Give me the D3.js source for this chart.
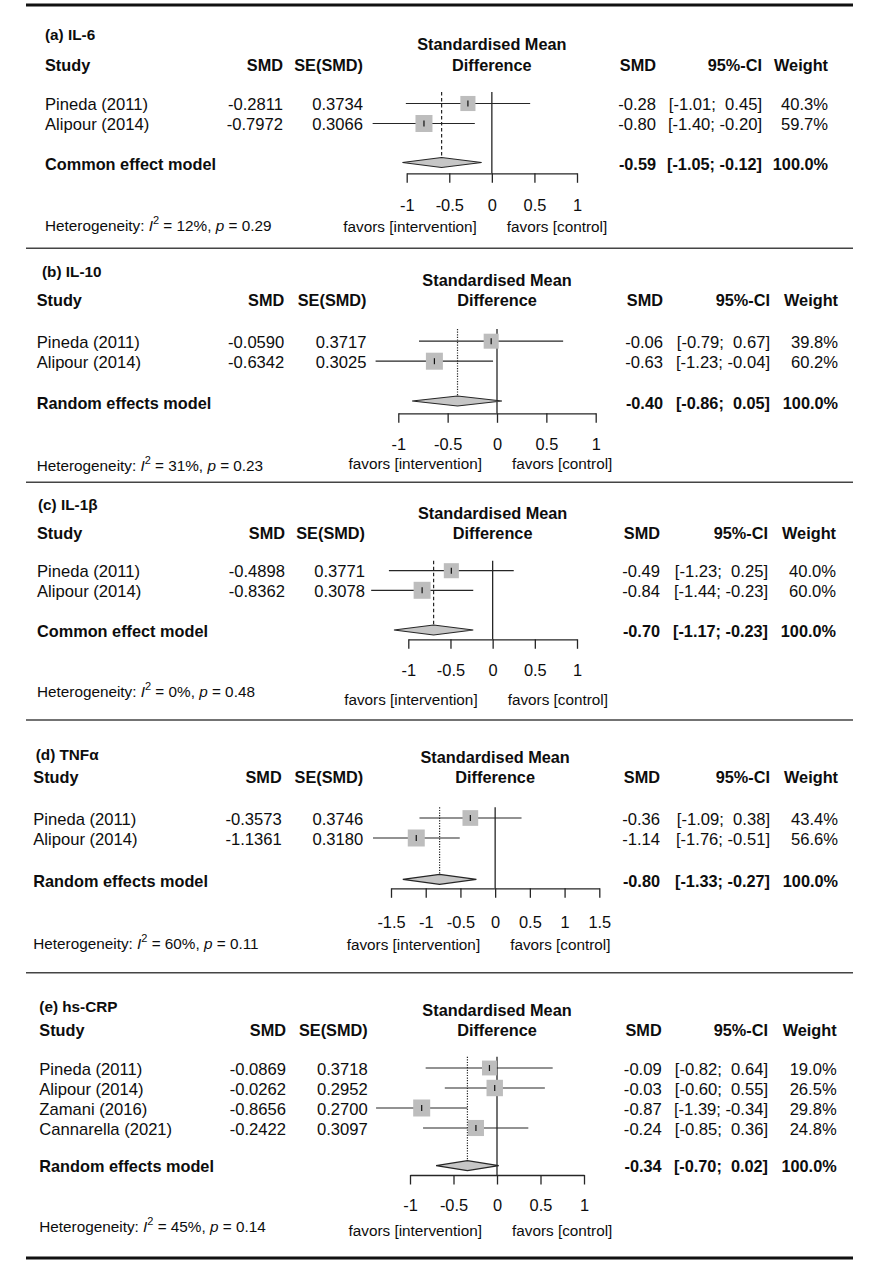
<!DOCTYPE html>
<html><head><meta charset="utf-8">
<script src="https://cdn.jsdelivr.net/npm/d3@7"></script>
<style>
body{margin:0;background:#fff}
text{font-family:"Liberation Sans",Arial,Helvetica,sans-serif;fill:#0d0d0d}
</style>
</head><body>
<svg id="chart" width="889" height="1266"></svg>
<script>
// ---------------- DATA ----------------
const panelTitles = ["(a) IL-6", "(b) IL-10", "(c) IL-1β", "(d) TNFα", "(e) hs-CRP"];
const modelLabels = ["Common effect model", "Random effects model", "Common effect model", "Random effects model", "Random effects model"];
const modelTypes = ["common", "random", "common", "random", "random"];
const pooledWeights = [100.0, 100.0, 100.0, 100.0, 100.0];

const studiesA = ["Pineda (2011)", "Alipour (2014)"];
const smdA = [-0.2811, -0.7972];
const seA = [0.3734, 0.3066];
const lowerA = [-1.01, -1.40];
const upperA = [0.45, -0.20];
const weightA = [40.3, 59.7];
const pooledA = [-0.59, -1.05, -0.12];
const hetA = [12, 0.29];
const ticksA = [-1, -0.5, 0, 0.5, 1];

const studiesB = ["Pineda (2011)", "Alipour (2014)"];
const smdB = [-0.0590, -0.6342];
const seB = [0.3717, 0.3025];
const lowerB = [-0.79, -1.23];
const upperB = [0.67, -0.04];
const weightB = [39.8, 60.2];
const pooledB = [-0.40, -0.86, 0.05];
const hetB = [31, 0.23];
const ticksB = [-1, -0.5, 0, 0.5, 1];

const studiesC = ["Pineda (2011)", "Alipour (2014)"];
const smdC = [-0.4898, -0.8362];
const seC = [0.3771, 0.3078];
const lowerC = [-1.23, -1.44];
const upperC = [0.25, -0.23];
const weightC = [40.0, 60.0];
const pooledC = [-0.70, -1.17, -0.23];
const hetC = [0, 0.48];
const ticksC = [-1, -0.5, 0, 0.5, 1];

const studiesD = ["Pineda (2011)", "Alipour (2014)"];
const smdD = [-0.3573, -1.1361];
const seD = [0.3746, 0.3180];
const lowerD = [-1.09, -1.76];
const upperD = [0.38, -0.51];
const weightD = [43.4, 56.6];
const pooledD = [-0.80, -1.33, -0.27];
const hetD = [60, 0.11];
const ticksD = [-1.5, -1, -0.5, 0, 0.5, 1, 1.5];

const studiesE = ["Pineda (2011)", "Alipour (2014)", "Zamani (2016)", "Cannarella (2021)"];
const smdE = [-0.0869, -0.0262, -0.8656, -0.2422];
const seE = [0.3718, 0.2952, 0.2700, 0.3097];
const lowerE = [-0.82, -0.60, -1.39, -0.85];
const upperE = [0.64, 0.55, -0.34, 0.36];
const weightE = [19.0, 26.5, 29.8, 24.8];
const pooledE = [-0.34, -0.70, 0.02];
const hetE = [45, 0.14];
const ticksE = [-1, -0.5, 0, 0.5, 1];

const panels = [
  {studies: studiesA, smd: smdA, se: seA, lo: lowerA, hi: upperA, w: weightA, pooled: pooledA, het: hetA, ticks: ticksA},
  {studies: studiesB, smd: smdB, se: seB, lo: lowerB, hi: upperB, w: weightB, pooled: pooledB, het: hetB, ticks: ticksB},
  {studies: studiesC, smd: smdC, se: seC, lo: lowerC, hi: upperC, w: weightC, pooled: pooledC, het: hetC, ticks: ticksC},
  {studies: studiesD, smd: smdD, se: seD, lo: lowerD, hi: upperD, w: weightD, pooled: pooledD, het: hetD, ticks: ticksD},
  {studies: studiesE, smd: smdE, se: seE, lo: lowerE, hi: upperE, w: weightE, pooled: pooledE, het: hetE, ticks: ticksE}
];

// ---------------- LAYOUT ----------------
const layout = [
  {titleX:45, titleY:35, left:45, head:65, stdMean:44, diff:65, row0:103.5, step:20, model:164.5, dia:162.5, axL:406.7, axR:577, axY:173.3, tickLab:205, favors:226.7, het:225.3, zeroTop:92, c1:283, c2:363, r1:656, r2:762, r3:828},
  {titleX:42, titleY:271.7, left:36.7, head:300.7, stdMean:280, diff:300.5, row0:341.2, step:20, model:403.3, dia:401, axL:398.3, axR:595.7, axY:413.3, tickLab:444, favors:464, het:465.7, zeroTop:329, c1:284.3, c2:366.5, r1:663, r2:770, r3:838},
  {titleX:38, titleY:505, left:37, head:533, stdMean:513, diff:533, row0:570.7, step:19.6, model:631, dia:630, axL:408.3, axR:577, axY:639.3, tickLab:670.7, favors:700, het:692, zeroTop:560.7, c1:285, c2:365, r1:660, r2:768, r3:836},
  {titleX:35.7, titleY:755, left:33.3, head:777.3, stdMean:757, diff:777.3, row0:818, step:20, model:881, dia:879.3, axL:391, axR:599.3, axY:888.3, tickLab:922.7, favors:945, het:944, zeroTop:807.3, c1:281.7, c2:363.3, r1:660, r2:770, r3:838},
  {titleX:39.3, titleY:1006.7, left:39.3, head:1030.7, stdMean:1010, diff:1030.5, row0:1068, step:20, model:1166.7, dia:1165.7, axL:410, axR:584, axY:1175, tickLab:1205, favors:1230.7, het:1226.7, zeroTop:1056.7, c1:286, c2:367.7, r1:661.7, r2:768, r3:836.7}
];
const separators = [248.3, 482.3, 720, 972.7];

// ---------------- DRAW ----------------
const svg = d3.select("#chart");
const FS = 16.6, FSB = 16.3;
const lineCol = "#262626";

svg.append("line").attr("x1", 26).attr("x2", 853).attr("y1", 5).attr("y2", 5)
  .attr("stroke", "#111").attr("stroke-width", 3);
svg.append("line").attr("x1", 26).attr("x2", 853).attr("y1", 1258).attr("y2", 1258)
  .attr("stroke", "#111").attr("stroke-width", 3);
separators.forEach(y => svg.append("line").attr("x1", 26).attr("x2", 853).attr("y1", y).attr("y2", y)
  .attr("stroke", "#444").attr("stroke-width", 1.5));

function txt(g, x, y, s, opt = {}) {
  const t = g.append("text").attr("x", x).attr("y", y).attr("dy", "0.35em")
    .style("font-size", (opt.size || (opt.bold ? FSB : FS)) + "px")
    .style("white-space", "pre")
    .attr("text-anchor", opt.anchor || "start")
    .text(s);
  if (opt.bold) t.style("font-weight", "bold");
  return t;
}
function ciStr(lo, hi) {
  const f = v => (v < 0 ? "" : " ") + v.toFixed(2);
  return "[" + f(lo) + "; " + f(hi) + "]";
}

panels.forEach((D, i) => {
  const L = layout[i];
  const g = svg.append("g");
  const x = d3.scaleLinear().domain([D.ticks[0], D.ticks[D.ticks.length - 1]]).range([L.axL, L.axR]);
  const y = d3.scaleLinear().domain([0, 1]).range([L.row0, L.row0 + L.step]);
  const box = d3.scalePow().exponent(0.3).domain([0, d3.max(D.w)]).range([0, 17]);

  // Titles & headers
  txt(g, L.titleX, L.titleY, panelTitles[i], {bold: true, size: 15.3});
  txt(g, L.left, L.head, "Study", {bold: true});
  txt(g, L.c1, L.head, "SMD", {bold: true, anchor: "end"});
  txt(g, L.c2, L.head, "SE(SMD)", {bold: true, anchor: "end"});
  const cx = (L.axL + L.axR) / 2;
  txt(g, cx, L.stdMean, "Standardised Mean", {bold: true, anchor: "middle"});
  txt(g, cx, L.diff, "Difference", {bold: true, anchor: "middle"});
  txt(g, L.r1, L.head, "SMD", {bold: true, anchor: "end"});
  txt(g, L.r2, L.head, "95%-CI", {bold: true, anchor: "end"});
  txt(g, L.r3, L.head, "Weight", {bold: true, anchor: "end"});

  // Study rows (text)
  D.studies.forEach((s, j) => {
    const yy = y(j) + 0.7;
    txt(g, L.left, yy, s);
    txt(g, L.c1, yy, D.smd[j].toFixed(4), {anchor: "end"});
    txt(g, L.c2, yy, D.se[j].toFixed(4), {anchor: "end"});
    txt(g, L.r1, yy, D.smd[j].toFixed(2), {anchor: "end"});
    txt(g, L.r2, yy, ciStr(D.lo[j], D.hi[j]), {anchor: "end"});
    txt(g, L.r3, yy, D.w[j].toFixed(1) + "%", {anchor: "end"});
  });

  // Model row text
  txt(g, L.left, L.model, modelLabels[i], {bold: true});
  txt(g, L.r1, L.model, D.pooled[0].toFixed(2), {bold: true, anchor: "end"});
  txt(g, L.r2, L.model, ciStr(D.pooled[1], D.pooled[2]), {bold: true, anchor: "end"});
  txt(g, L.r3, L.model, pooledWeights[i].toFixed(1) + "%", {bold: true, anchor: "end"});

  // Heterogeneity
  const h = g.append("text").attr("x", L.left).attr("y", L.het).attr("dy", "0.35em").style("font-size", "15.3px");
  h.append("tspan").text("Heterogeneity: ");
  h.append("tspan").style("font-style", "italic").text("I");
  h.append("tspan").attr("dy", -7).style("font-size", "11px").text("2");
  h.append("tspan").attr("dy", 7).text(" = " + D.het[0] + "%, ");
  h.append("tspan").style("font-style", "italic").text("p");
  h.append("tspan").text(" = " + D.het[1].toFixed(2));

  // Zero line
  g.append("line").attr("x1", x(0)).attr("x2", x(0)).attr("y1", L.zeroTop).attr("y2", L.axY)
    .attr("stroke", lineCol).attr("stroke-width", 1.3);
  // Pooled estimate line
  g.append("line").attr("x1", x(D.pooled[0])).attr("x2", x(D.pooled[0]))
    .attr("y1", L.zeroTop).attr("y2", L.dia - 4)
    .attr("stroke", lineCol).attr("stroke-width", 1.2)
    .attr("stroke-dasharray", modelTypes[i] === "common" ? "3.5,2.5" : "1.2,1.4");

  // CI lines, squares, point ticks
  D.studies.forEach((s, j) => {
    const yy = y(j);
    g.append("line").attr("x1", x(D.lo[j])).attr("x2", x(D.hi[j])).attr("y1", yy).attr("y2", yy)
      .attr("stroke", lineCol).attr("stroke-width", 1.2);
    const b = box(D.w[j]);
    g.append("rect").attr("x", x(D.smd[j]) - b / 2).attr("y", yy - b / 2).attr("width", b).attr("height", b)
      .attr("fill", "#bdbdbd");
    g.append("line").attr("x1", x(D.smd[j])).attr("x2", x(D.smd[j])).attr("y1", yy - 3).attr("y2", yy + 3)
      .attr("stroke", "#111").attr("stroke-width", 1.2);
  });

  // Diamond
  const dp = [[x(D.pooled[1]), L.dia], [x(D.pooled[0]), L.dia - 5], [x(D.pooled[2]), L.dia], [x(D.pooled[0]), L.dia + 5]];
  g.append("path").attr("d", d3.line()(dp) + "Z").attr("fill", "#c6c6c6").attr("stroke", lineCol).attr("stroke-width", 1.2);

  // Axis
  const ax = g.append("g").attr("transform", `translate(0,${L.axY})`)
    .call(d3.axisBottom(x).tickValues(D.ticks).tickSize(9.5).tickSizeOuter(0).tickFormat(d => String(d)));
  ax.select(".domain").attr("stroke", lineCol).attr("stroke-width", 1.3);
  ax.selectAll(".tick line").attr("stroke", lineCol).attr("stroke-width", 1.3);
  ax.selectAll(".tick text").attr("y", L.tickLab - L.axY).attr("dy", "0.35em")
    .style("font-size", "16.4px").attr("fill", "#0d0d0d")
    .style("font-family", '"Liberation Sans",Arial,sans-serif');

  // favors labels
  txt(g, x(0) - 15, L.favors, "favors [intervention]", {size: 15.3, anchor: "end"});
  txt(g, x(0) + 15, L.favors, "favors [control]", {size: 15.3});
});
</script>
</body></html>
